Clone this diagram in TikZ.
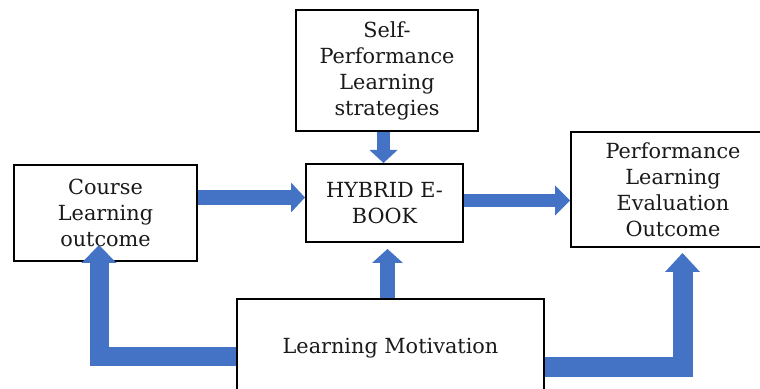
\documentclass[tikz,border=0pt]{standalone}
\usepackage{fontspec}
\setmainfont{DejaVu Serif}
\usepackage{xcolor}
\usetikzlibrary{arrows.meta,calc}
\definecolor{arrowblue}{HTML}{4472C4}
\tikzset{
	box/.style={draw, line width=1pt, align=center, inner sep=0pt, text=black!90},
	blockarrow/.style n args={3}{
			draw=arrowblue, line width=#1, line join=miter,
			-{Triangle[length=#2, width=#3, line width=0pt, color=arrowblue]}
		}
}

\begin{document}
\begin{tikzpicture}[x=0.5pt, y=-0.5pt, font=\fontsize{10.4}{13}\selectfont]
	\useasboundingbox (0,0) rectangle (760,389);
	\clip (0,0) rectangle (760,389);

	% Draw the boxes
	\node[box, minimum width=91pt, minimum height=60.5pt] (self) at (387,70.5)
		{Self-\\Performance\\Learning\\strategies};
	\node[box, minimum width=78.5pt, minimum height=39pt] (hybrid) at (384.5,203)
		{HYBRID E-\\BOOK};
	\node[box, minimum width=91.5pt, minimum height=48pt] (course) at (105.5,213)
		{Course\\Learning\\outcome};
	\node[box, minimum width=102pt, minimum height=57.5pt] (perf) at (673,189.5)
		{Performance\\Learning\\Evaluation\\Outcome};
	\node[box, minimum width=153.5pt, minimum height=49pt] (motiv) at (390.5,348)
		{Learning Motivation};

	% Levels of the block arrows
	\coordinate (rowin) at (0,197.5);
	\coordinate (rowout) at (0,200.5);
	\coordinate (coltop) at (383.5,0);
	\coordinate (colbot) at (387.5,0);
	\coordinate (ltip) at (99,245);
	\coordinate (lbar) at (0,357);
	\coordinate (rtip) at (682.5,253);
	\coordinate (rbar) at (0,367.5);

	% Draw the straight arrows
	\draw[blockarrow={7.5pt}{7pt}{15pt}] (course.east |- rowin) -- (hybrid.west |- rowin);
	\draw[blockarrow={6.5pt}{7.5pt}{15pt}] (hybrid.east |- rowout) -- (perf.west |- rowout);
	\draw[blockarrow={6.5pt}{6.5pt}{14pt}] (self.south -| coltop) -- (hybrid.north -| coltop);
	\draw[blockarrow={7.5pt}{7pt}{15.5pt}] (motiv.north -| colbot) -- ([yshift=-3pt]hybrid.south -| colbot);

	% Draw the elbow arrows
	\draw[blockarrow={9.5pt}{9pt}{17.5pt}] (motiv.west |- lbar) -| (ltip);
	\draw[blockarrow={10pt}{9.5pt}{17.5pt}] (motiv.east |- rbar) -| (rtip);

\end{tikzpicture}
\end{document}
